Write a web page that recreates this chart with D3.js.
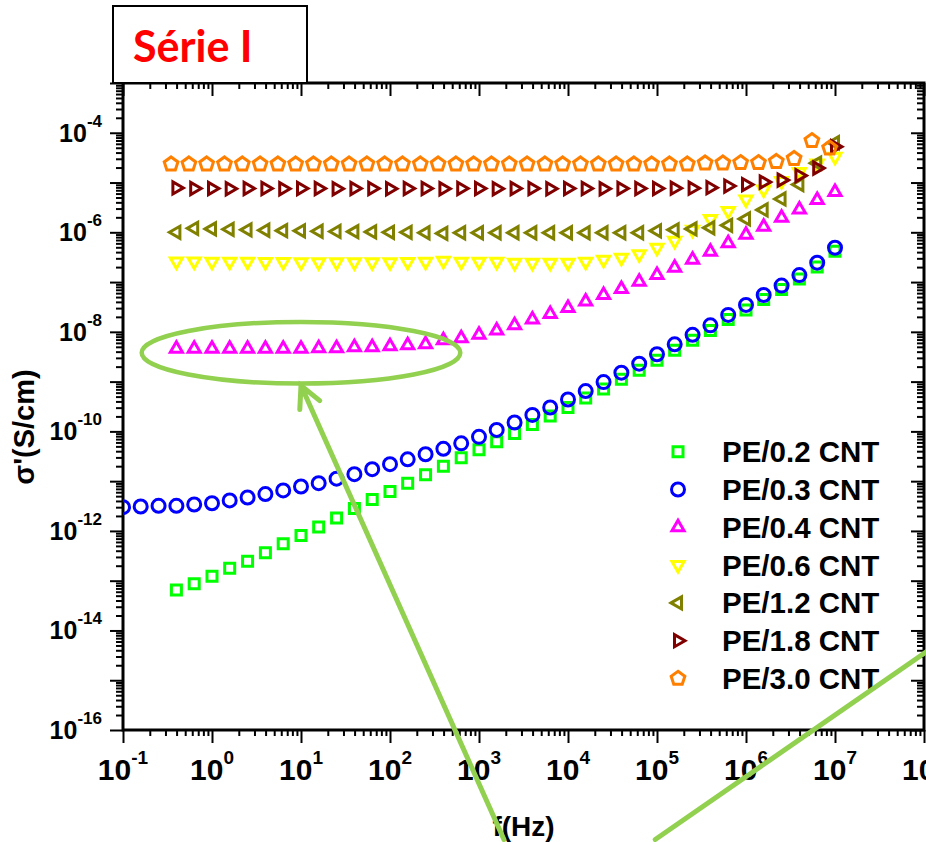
<!DOCTYPE html>
<html>
<head>
<meta charset="utf-8">
<script src="https://d3js.org/d3.v7.min.js"></script>
<style>
  body { margin: 0; background: #fff; }
  svg { display: block; }
  .tick line { stroke: #000; stroke-width: 2px; }
  .tick text { display: none; }
  .lbl { font-family: "Liberation Sans", Arial, sans-serif; font-weight: bold; fill: #000; }
</style>
</head>
<body>
<script>
// frequencies (Hz), 5 points per decade
var freqs = [0.1, 0.158, 0.251, 0.398, 0.631, 1, 1.58, 2.51, 3.98, 6.31,
    10, 15.8, 25.1, 39.8, 63.1, 100, 158, 251, 398, 631,
    1e3, 1.58e3, 2.51e3, 3.98e3, 6.31e3, 1e4, 1.58e4, 2.51e4, 3.98e4, 6.31e4,
    1e5, 1.58e5, 2.51e5, 3.98e5, 6.31e5, 1e6, 1.58e6, 2.51e6, 3.98e6, 6.31e6, 1e7];
var freqsShort = freqs.slice(3);
var freqsOrange = [0.347, 0.55, 0.87, 1.38, 2.19, 3.47, 5.5, 8.7, 13.8, 21.9,
    34.7, 55, 87, 138, 219, 347, 550, 870, 1380, 2190,
    3470, 5500, 8700, 1.38e4, 2.19e4, 3.47e4, 5.5e4, 8.7e4, 1.38e5, 2.19e5,
    3.47e5, 5.5e5, 8.7e5, 1.38e6, 2.19e6, 3.47e6, 5.5e6, 8.7e6];

// conductivity sigma' (S/cm)
var pe02 = [6.5e-14, 8.7e-14, 1.23e-13, 1.78e-13, 2.45e-13, 3.63e-13, 5.5e-13, 8.1e-13, 1.2e-12, 1.82e-12,
    2.82e-12, 4.27e-12, 6.2e-12, 9.1e-12, 1.35e-11, 2.0e-11, 2.95e-11, 4.27e-11, 6.2e-11, 9.1e-11,
    1.38e-10, 2.04e-10, 3.02e-10, 4.68e-10, 7.1e-10, 1.12e-9, 1.7e-9, 2.69e-9, 4.27e-9, 6.76e-9,
    1.07e-8, 1.78e-8, 2.75e-8, 4.47e-8, 7.1e-8, 1.15e-7, 2.0e-7, 4.17e-7];
var pe03 = [3.0e-12, 3.1e-12, 3.2e-12, 3.2e-12, 3.4e-12, 3.6e-12, 4.1e-12, 4.7e-12, 5.5e-12, 6.5e-12,
    7.8e-12, 9.1e-12, 1.12e-11, 1.38e-11, 1.74e-11, 2.19e-11, 2.75e-11, 3.47e-11, 4.47e-11, 5.75e-11,
    7.76e-11, 1.07e-10, 1.51e-10, 2.14e-10, 3.02e-10, 4.37e-10, 6.46e-10, 9.77e-10, 1.51e-9, 2.29e-9,
    3.55e-9, 5.62e-9, 8.71e-9, 1.35e-8, 2.19e-8, 3.47e-8, 5.5e-8, 8.5e-8, 1.38e-7, 2.45e-7, 4.9e-7];
var pe04 = [4.6e-9, 4.55e-9, 4.6e-9, 4.57e-9, 4.57e-9, 4.6e-9, 4.57e-9, 4.6e-9, 4.68e-9, 4.68e-9,
    4.9e-9, 4.9e-9, 5.13e-9, 5.37e-9, 5.62e-9, 6.76e-9, 7.41e-9, 8.71e-9, 1.07e-8, 1.35e-8,
    1.78e-8, 2.29e-8, 3.02e-8, 4.07e-8, 5.5e-8, 7.24e-8, 1.02e-7, 1.38e-7, 1.95e-7, 2.82e-7,
    4.07e-7, 6.03e-7, 8.91e-7, 1.29e-6, 1.95e-6, 2.88e-6, 4.47e-6, 6.46e-6];
var pe06 = [2.6e-7, 2.6e-7, 2.55e-7, 2.55e-7, 2.55e-7, 2.52e-7, 2.52e-7, 2.5e-7, 2.5e-7, 2.5e-7,
    2.5e-7, 2.5e-7, 2.5e-7, 2.52e-7, 2.55e-7, 2.69e-7, 2.57e-7, 2.57e-7, 2.57e-7, 2.45e-7,
    2.45e-7, 2.45e-7, 2.45e-7, 2.57e-7, 2.82e-7, 3.09e-7, 3.63e-7, 4.9e-7, 6.76e-7, 1.12e-6,
    1.86e-6, 2.69e-6, 4.57e-6, 7.24e-6, 1.07e-5, 1.62e-5, 2.4e-5, 3.31e-5];
var pe12 = [1.0e-6, 1.2e-6, 1.17e-6, 1.15e-6, 1.12e-6, 1.1e-6, 1.08e-6, 1.07e-6, 1.05e-6, 1.04e-6,
    1.03e-6, 1.02e-6, 1.0e-6, 1.0e-6, 9.8e-7, 9.5e-7, 9.8e-7, 9.8e-7, 9.8e-7, 9.8e-7,
    9.8e-7, 9.8e-7, 9.8e-7, 9.8e-7, 9.8e-7, 9.8e-7, 9.8e-7, 1.07e-6, 1.12e-6, 1.17e-6,
    1.23e-6, 1.38e-6, 1.86e-6, 2.82e-6, 4.68e-6, 9.1e-6, 2.45e-5, 6.3e-5];
var pe18 = [7.8e-6, 7.6e-6, 7.6e-6, 7.5e-6, 7.6e-6, 7.6e-6, 7.5e-6, 7.6e-6, 7.6e-6, 7.5e-6,
    7.6e-6, 7.6e-6, 7.5e-6, 7.6e-6, 7.6e-6, 7.5e-6, 7.6e-6, 7.6e-6, 7.5e-6, 7.6e-6,
    7.6e-6, 7.5e-6, 7.6e-6, 7.6e-6, 7.5e-6, 7.6e-6, 7.6e-6, 7.6e-6, 7.7e-6, 7.7e-6,
    7.9e-6, 8.5e-6, 9.1e-6, 1.02e-5, 1.12e-5, 1.38e-5, 1.95e-5, 5.25e-5];
var pe30 = [2.34e-5, 2.34e-5, 2.34e-5, 2.34e-5, 2.34e-5, 2.34e-5, 2.34e-5, 2.34e-5, 2.34e-5, 2.34e-5,
    2.34e-5, 2.34e-5, 2.34e-5, 2.34e-5, 2.34e-5, 2.34e-5, 2.34e-5, 2.34e-5, 2.34e-5, 2.34e-5,
    2.34e-5, 2.34e-5, 2.34e-5, 2.34e-5, 2.34e-5, 2.34e-5, 2.34e-5, 2.34e-5, 2.34e-5, 2.34e-5,
    2.45e-5, 2.45e-5, 2.5e-5, 2.5e-5, 2.63e-5, 3.02e-5, 6.9e-5, 4.9e-5];

var seriesNames = ["PE/0.2 CNT", "PE/0.3 CNT", "PE/0.4 CNT", "PE/0.6 CNT", "PE/1.2 CNT", "PE/1.8 CNT", "PE/3.0 CNT"];
var seriesColors = ["#00ff00", "#0000ff", "#ff00ff", "#ffff00", "#808000", "#800000", "#ff8000"];

var xExponents = [-1, 0, 1, 2, 3, 4, 5, 6, 7, 8];
var yExponents = [-16, -15, -14, -13, -12, -11, -10, -9, -8, -7, -6, -5, -4, -3];
var yLabelExponents = [-4, -6, -8, -10, -12, -14, -16];

var W = 926, H = 842;
var plotL = 123, plotR = 924, plotT = 83, plotB = 730;

var svg = d3.select("body").append("svg").attr("width", W).attr("height", H);

var x = d3.scaleLog().domain([1e-1, 1e8]).range([plotL, plotR]);
var y = d3.scaleLog().domain([1e-16, 1e-3]).range([plotB, plotT]);

// marker shapes
function poly(n, rot) {
    return {
        draw: function(ctx, size) {
            var r = Math.sqrt(size);
            for (var i = 0; i < n; i++) {
                var a = rot + 2 * Math.PI * i / n;
                if (i === 0) ctx.moveTo(r * Math.cos(a), r * Math.sin(a));
                else ctx.lineTo(r * Math.cos(a), r * Math.sin(a));
            }
            ctx.closePath();
        }
    };
}
var shapes = [
    d3.symbol().type(d3.symbolSquare).size(100),
    d3.symbol().type(d3.symbolCircle).size(Math.PI * 6.5 * 6.5),
    d3.symbol().type(poly(3, -Math.PI / 2)).size(49),
    d3.symbol().type(poly(3, Math.PI / 2)).size(49),
    d3.symbol().type(poly(3, Math.PI)).size(49),
    d3.symbol().type(poly(3, 0)).size(49),
    d3.symbol().type(poly(5, -Math.PI / 2)).size(52)
];

var series = [
    { f: freqsShort, s: pe02 },
    { f: freqs, s: pe03 },
    { f: freqsShort, s: pe04 },
    { f: freqsShort, s: pe06 },
    { f: freqsShort, s: pe12 },
    { f: freqsShort, s: pe18 },
    { f: freqsOrange, s: pe30 }
];

// axes ticks
var xMajor = xExponents.map(function(e) { return Math.pow(10, e); });
var yMajor = yExponents.map(function(e) { return Math.pow(10, e); });
var xMinor = [], yMinor = [];
xMajor.slice(0, -1).forEach(function(d) { for (var k = 2; k < 10; k++) xMinor.push(d * k); });
yMajor.slice(0, -1).forEach(function(d) { for (var k = 2; k < 10; k++) yMinor.push(d * k); });

function addAxis(gen, ticks, size, transform) {
    svg.append("g").attr("transform", transform)
        .call(gen.tickValues(ticks).tickSize(size).tickSizeOuter(0).tickFormat(""))
        .call(function(g) { g.select(".domain").remove(); });
}
addAxis(d3.axisBottom(x), xMajor, 13, "translate(0," + plotB + ")");
addAxis(d3.axisBottom(x), xMinor, 6, "translate(0," + plotB + ")");
addAxis(d3.axisTop(x), xMajor, -13, "translate(0," + plotT + ")");
addAxis(d3.axisTop(x), xMinor, -6, "translate(0," + plotT + ")");
addAxis(d3.axisLeft(y), yMajor, 13, "translate(" + plotL + ",0)");
addAxis(d3.axisLeft(y), yMinor, 7, "translate(" + plotL + ",0)");
addAxis(d3.axisRight(y), yMajor, -13, "translate(" + plotR + ",0)");
addAxis(d3.axisRight(y), yMinor, -7, "translate(" + plotR + ",0)");

// frame
svg.append("rect")
    .attr("x", plotL).attr("y", plotT)
    .attr("width", plotR - plotL).attr("height", plotB - plotT)
    .attr("fill", "none").attr("stroke", "#000").attr("stroke-width", 3);

// tick labels
xExponents.forEach(function(e) {
    var t = svg.append("text").attr("class", "lbl")
        .attr("x", x(Math.pow(10, e))).attr("y", 780)
        .attr("text-anchor", "middle");
    t.append("tspan").style("font-size", "30px").text("10");
    t.append("tspan").style("font-size", "19px").attr("dy", -16).text(e);
});
yLabelExponents.forEach(function(e) {
    var t = svg.append("text").attr("class", "lbl")
        .attr("x", 102).attr("y", y(Math.pow(10, e)) + 9)
        .attr("text-anchor", "end");
    t.append("tspan").style("font-size", "25px").text("10");
    t.append("tspan").style("font-size", "17px").attr("dy", -15).text(e);
});

// axis titles
svg.append("text").attr("class", "lbl")
    .attr("transform", "translate(34,427) rotate(-90)")
    .attr("text-anchor", "middle").style("font-size", "29px")
    .text("σ'(S/cm)");
svg.append("text").attr("class", "lbl")
    .attr("x", (plotL + plotR) / 2).attr("y", 836)
    .attr("text-anchor", "middle").style("font-size", "28px")
    .text("f(Hz)");

// data markers
svg.append("clipPath").attr("id", "plotclip")
    .append("rect").attr("x", plotL).attr("y", plotT)
    .attr("width", plotR - plotL).attr("height", plotB - plotT);
var plot = svg.append("g").attr("clip-path", "url(#plotclip)");

series.forEach(function(sr, i) {
    plot.append("g").selectAll("path")
        .data(sr.s.map(function(v, j) { return [sr.f[j], v]; }))
        .enter().append("path")
        .attr("d", shapes[i])
        .attr("transform", function(d) { return "translate(" + x(d[0]) + "," + y(d[1]) + ")"; })
        .attr("fill", "none")
        .attr("stroke", seriesColors[i])
        .attr("stroke-width", 3);
});

// legend
var legend = svg.append("g");
seriesNames.forEach(function(name, i) {
    var cy = 451.7 + i * 37.8;
    legend.append("path")
        .attr("d", shapes[i])
        .attr("transform", "translate(678," + cy + ")")
        .attr("fill", "none").attr("stroke", seriesColors[i]).attr("stroke-width", 3);
    legend.append("text").attr("class", "lbl")
        .attr("x", 722).attr("y", cy + 10.5)
        .style("font-size", "29.5px")
        .text(name);
});

// title box
svg.append("rect")
    .attr("x", 113).attr("y", 6).attr("width", 194).attr("height", 77)
    .attr("fill", "#fff").attr("stroke", "#000").attr("stroke-width", 2);
svg.append("text")
    .attr("x", 133).attr("y", 62)
    .style("font-family", "Lato, 'Open Sans', sans-serif")
    .style("font-weight", "bold").style("font-size", "43px")
    .attr("fill", "#ff0000")
    .text("Série I");

// green hand-drawn annotations
var green = "#92d050";
var ann = svg.append("g").attr("fill", "none").attr("stroke", green)
    .attr("stroke-width", 5).attr("stroke-linecap", "round");
var ecx = x(10), ecy = y(3.8e-9);
ann.append("ellipse")
    .attr("cx", ecx).attr("cy", ecy)
    .attr("rx", x(Math.pow(10, 2.79)) - ecx)
    .attr("ry", y(Math.pow(10, -9.04)) - ecy)
    .attr("stroke-width", 4.5);

var tip = [x(10), y(Math.pow(10, -9.08))];
var tail = [x(Math.pow(10, 3.28)), y(Math.pow(10, -18.2))];
var ang = Math.atan2(tail[1] - tip[1], tail[0] - tip[0]);
var armLen = 24, spread = 27 * Math.PI / 180;
ann.append("path")
    .attr("d", "M" + tail[0] + "," + tail[1] + "L" + tip[0] + "," + tip[1]
        + "M" + (tip[0] + armLen * Math.cos(ang + spread)) + "," + (tip[1] + armLen * Math.sin(ang + spread))
        + "L" + tip[0] + "," + tip[1]
        + "L" + (tip[0] + armLen * Math.cos(ang - spread)) + "," + (tip[1] + armLen * Math.sin(ang - spread)));

ann.append("line")
    .attr("x1", x(Math.pow(10, 4.98))).attr("y1", y(Math.pow(10, -18.2)))
    .attr("x2", x(Math.pow(10, 8.05))).attr("y2", y(Math.pow(10, -14.4)));
</script>
</body>
</html>
